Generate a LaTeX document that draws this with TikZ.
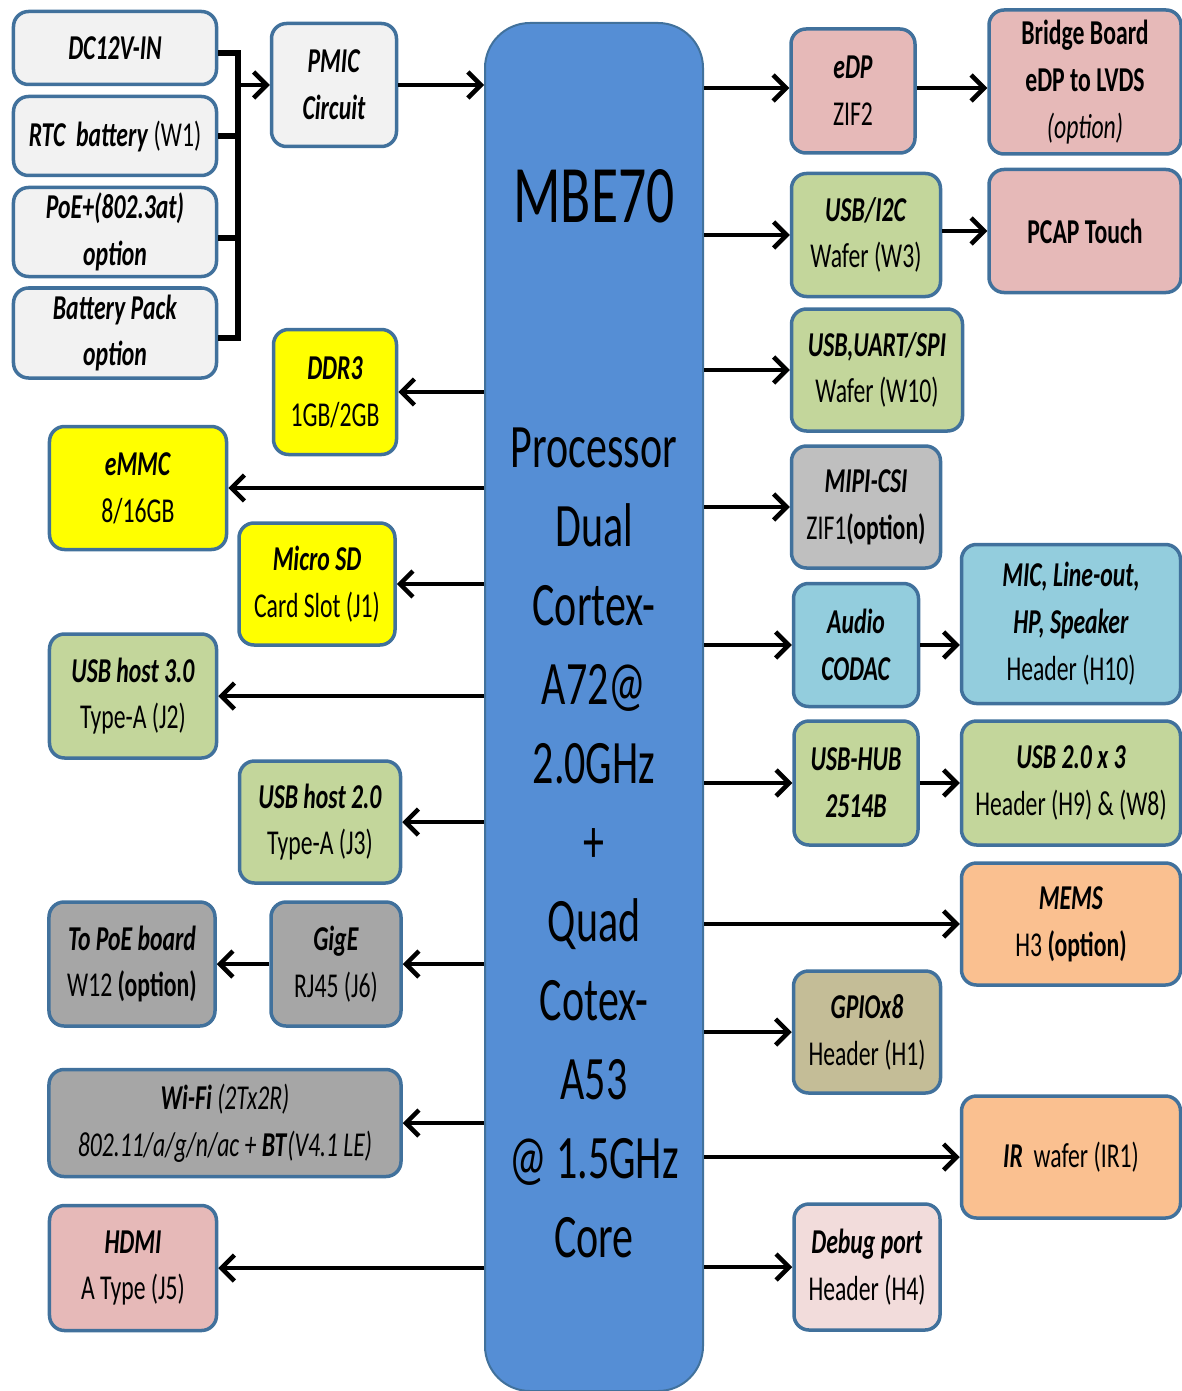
\documentclass[tikz,border=0pt]{standalone}
\usepackage{fontspec}
\setmainfont{Carlito}[FakeStretch=0.68]
\usepackage{xcolor}
\usepackage{tikz}
\usetikzlibrary{arrows.meta}

\definecolor{bdr}{RGB}{65,113,156}
\definecolor{pwr}{HTML}{F2F2F2}
\definecolor{cpuc}{HTML}{558ED5}
\definecolor{yel}{HTML}{FFFF00}
\definecolor{grn}{HTML}{C3D69B}
\definecolor{pnk}{HTML}{E6B9B8}
\definecolor{gry}{HTML}{A6A6A6}
\definecolor{lgry}{HTML}{BFBFBF}
\definecolor{blu}{HTML}{93CDDD}
\definecolor{org}{HTML}{FAC090}
\definecolor{tan}{HTML}{C4BD97}
\definecolor{dbgc}{HTML}{F2DCDB}

\newcommand{\bi}[1]{\textbf{\textit{#1}}}

\begin{document}
\begin{tikzpicture}[
      x=1bp, y=-1bp,
      blk/.style={draw=bdr, line width=3.5bp, rounded corners=15bp, align=center,
                  inner sep=0pt, font=\fontsize{35}{47}\selectfont},
      wh/.style 2 args={minimum width=#1bp, minimum height=#2bp},
      arr/.style={line width=4.5bp, -{Straight Barb[length=13bp, width=26bp, line width=4.5bp]}},
      bus/.style={line width=6bp},
    ]
    \useasboundingbox (0,0) rectangle (1181,1391);

    % processor
    \node[draw=bdr, line width=2bp, fill=cpuc, rounded corners=45bp, wh={218}{1368}] (cpu) at (594,707) {};
    \node[anchor=base, font=\fontsize{82}{82}\selectfont] (title) at (594,223) {MBE70};
    \foreach \t [count=\i] in {Processor, Dual, Cortex-, A72@, 2.0GHz, +, Quad, Cotex-, A53, @ 1.5GHz, Core}
      \node[anchor=base, font=\fontsize{62}{62}\selectfont] (ln\i) at (594,{467+79*(\i-1)}) {\t};

    % power inputs
    \node[blk, fill=pwr, wh={203}{73}] (dc) at (115,48) {\bi{DC12V-IN}};
    \node[blk, fill=pwr, wh={203}{79}] (rtc) at (115,136) {\bi{RTC\ \ battery} (W1)};
    \node[blk, fill=pwr, wh={203}{89}] (poe) at (115,232) {\bi{PoE+(802.3at)}\\\bi{option}};
    \node[blk, fill=pwr, wh={203}{90}] (bat) at (115,333) {\bi{Battery Pack}\\\bi{option}};
    \node[blk, fill=pwr, wh={125}{123}] (pmic) at (334,85) {\bi{PMIC}\\\bi{Circuit}};
    \coordinate (jn) at (238,85);

    % left side
    \node[blk, fill=yel, wh={123}{125}] (ddr) at (335,392) {\bi{DDR3}\\1GB/2GB};
    \node[blk, fill=yel, wh={177}{123}] (emmc) at (138,488) {\bi{eMMC}\\8/16GB};
    \node[blk, fill=yel, wh={156}{122}] (sd) at (317,584) {\bi{Micro SD}\\Card Slot (J1)};
    \node[blk, fill=grn, wh={167}{124}] (usb3) at (133,696) {\bi{USB host 3.0}\\Type-A (J2)};
    \node[blk, fill=grn, wh={161}{122}] (usb2) at (320,822) {\bi{USB host 2.0}\\Type-A (J3)};
    \node[blk, fill=gry, wh={166}{124}] (tpoe) at (132,964) {\bi{To PoE board}\\W12 \textbf{(option)}};
    \node[blk, fill=gry, wh={130}{124}] (gige) at (336,964) {\bi{GigE}\\RJ45 (J6)};
    \node[blk, fill=gry, wh={352}{107}] (wifi) at (225,1123) {\bi{Wi-Fi} \textit{(2Tx2R)}\\\textit{802.11/a/g/n/ac + }\bi{BT}\textit{(V4.1 LE)}};
    \node[blk, fill=pnk, wh={167}{125}] (hdmi) at (133,1268) {\bi{HDMI}\\A Type (J5)};

    % right side
    \node[blk, fill=pnk, wh={124}{124}] (edp) at (853,91) {\bi{eDP}\\ZIF2};
    \node[blk, fill=pnk, wh={192}{144}] (brg) at (1085,82) {\textbf{Bridge Board}\\\textbf{eDP to LVDS}\\\textit{(option)}};
    \node[blk, fill=grn, wh={149}{123}] (i2c) at (866,235) {\bi{USB/I2C}\\Wafer (W3)};
    \node[blk, fill=pnk, wh={192}{123}] (pcap) at (1085,231) {\textbf{PCAP Touch}};
    \node[blk, fill=grn, wh={171}{122}] (uart) at (877,370) {\bi{USB,UART/SPI}\\Wafer (W10)};
    \node[blk, fill=lgry, wh={149}{122}] (mipi) at (866,507) {\bi{MIPI-CSI}\\ZIF1\textbf{(option)}};
    \node[blk, fill=blu, wh={125}{123}] (audio) at (856,645) {\bi{Audio}\\\bi{CODAC}};
    \node[blk, fill=blu, wh={219}{159}] (mic) at (1071,624) {\bi{MIC, Line-out,}\\\bi{HP, Speaker}\\Header (H10)};
    \node[blk, fill=grn, wh={124}{124}] (hub) at (856,783) {\bi{USB-HUB}\\\bi{2514B}};
    \node[blk, fill=grn, wh={219}{124}] (usbx) at (1071,783) {\bi{USB 2.0 x 3}\\Header (H9) \& (W8)};
    \node[blk, fill=org, wh={219}{122}] (mems) at (1071,924) {\bi{MEMS}\\H3 \textbf{(option)}};
    \node[blk, fill=tan, wh={147}{122}] (gpio) at (867,1032) {\bi{GPIOx8}\\Header (H1)};
    \node[blk, fill=org, wh={219}{122}] (ir) at (1071,1157) {\bi{IR}\ \ wafer (IR1)};
    \node[blk, fill=dbgc, wh={146}{126}] (dbg) at (867,1267) {\bi{Debug port}\\Header (H4)};

    % power bus
    \draw[bus] (dc.east |- 0,53) -| (jn |- 0,338) -- (bat.east |- 0,338);
    \draw[bus] (rtc.east) -- (rtc.east -| jn);
    \draw[bus] (poe.east |- 0,238) -- (jn |- 0,238);
    \draw[arr] (jn) -- (pmic.west |- jn);
    \draw[arr] (pmic.east) -- (pmic.east -| cpu.west);

    % connections
    \draw[arr] (cpu.west |- ddr.east) -- (ddr.east);
    \draw[arr] (cpu.west |- emmc.east) -- (emmc.east);
    \draw[arr] (cpu.west |- sd.east) -- (sd.east);
    \draw[arr] (cpu.west |- usb3.east) -- (usb3.east);
    \draw[arr] (cpu.west |- usb2.east) -- (usb2.east);
    \draw[arr] (cpu.west |- gige.east) -- (gige.east);
    \draw[arr] (gige.west) -- (tpoe.east);
    \draw[arr] (cpu.west |- wifi.east) -- (wifi.east);
    \draw[arr] (cpu.west |- hdmi.east) -- (hdmi.east);

    \draw[arr] (cpu.east |- 0,88) -- (edp.west |- 0,88);
    \draw[arr] (edp.east |- 0,88) -- (brg.west |- 0,88);
    \draw[arr] (cpu.east |- i2c.west) -- (i2c.west);
    \draw[arr] (i2c.east |- pcap.west) -- (pcap.west);
    \draw[arr] (cpu.east |- uart.west) -- (uart.west);
    \draw[arr] (cpu.east |- mipi.west) -- (mipi.west);
    \draw[arr] (cpu.east |- audio.west) -- (audio.west);
    \draw[arr] (audio.east) -- (audio.east -| mic.west);
    \draw[arr] (cpu.east |- hub.west) -- (hub.west);
    \draw[arr] (hub.east) -- (usbx.west);
    \draw[arr] (cpu.east |- mems.west) -- (mems.west);
    \draw[arr] (cpu.east |- gpio.west) -- (gpio.west);
    \draw[arr] (cpu.east |- ir.west) -- (ir.west);
    \draw[arr] (cpu.east |- dbg.west) -- (dbg.west);
  \end{tikzpicture}
\end{document}
